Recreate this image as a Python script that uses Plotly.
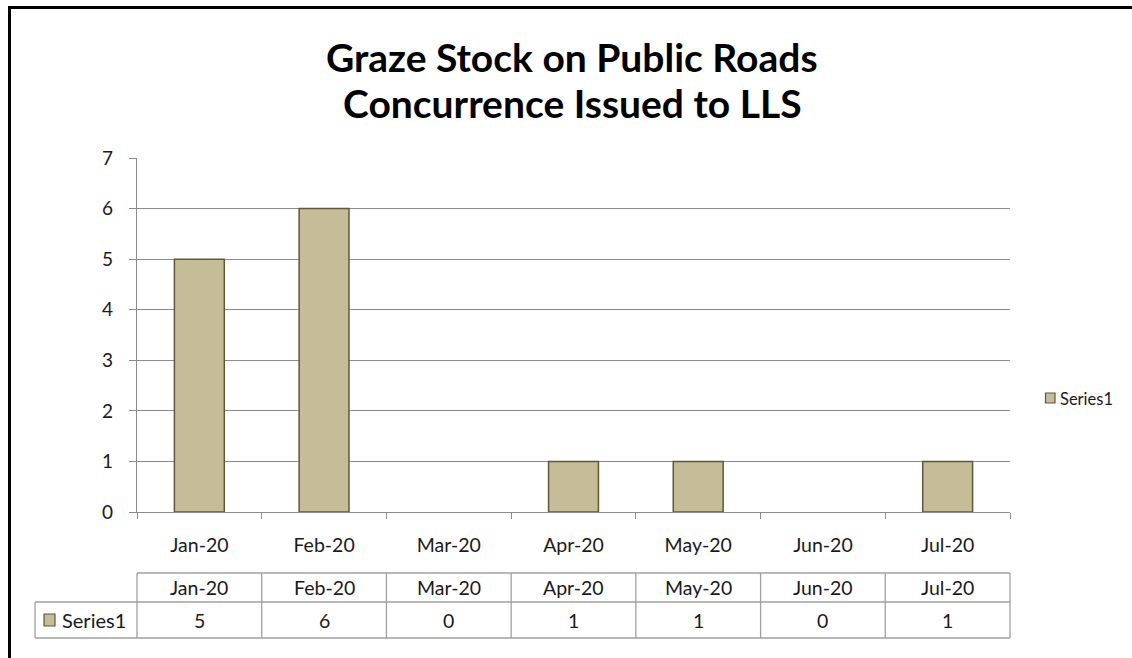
import plotly.graph_objects as go

categories = ["Jan-20", "Feb-20", "Mar-20", "Apr-20", "May-20", "Jun-20", "Jul-20"]
values = [5, 6, 0, 1, 1, 0, 1]
series_name = "Series1"
title_lines = ["Graze Stock on Public Roads", "Concurrence Issued to LLS"]
y_ticks = [0, 1, 2, 3, 4, 5, 6, 7]

W, H = 1132, 658
L, R, T, B = 137, 1010, 158, 512
FONT = "Lato, 'Open Sans', sans-serif"
BAR_FILL = "#C4BD97"
BAR_LINE = "#5E583A"
GRID = "#8C8C8C"
TABLE = "#A0A0A0"
TXT = "#1a1a1a"


def px_x(p):
    return (p - L) / (R - L)


def px_y(p):
    return (B - p) / (B - T)


n = len(categories)
fig = go.Figure()
fig.add_trace(go.Bar(
    x=categories, y=values, name=series_name, width=0.4,
    marker=dict(color=BAR_FILL,
                line=dict(color=BAR_LINE, width=[1.5 if v else 0 for v in values])),
    showlegend=False, hoverinfo="skip",
))

shapes = []
annotations = []

# Outer chart border (left and top)
shapes.append(dict(type="line", xref="paper", yref="paper", x0=px_x(9.5), x1=px_x(9.5),
                   y0=px_y(7.5), y1=px_y(662), line=dict(color="black", width=3)))
shapes.append(dict(type="line", xref="paper", yref="paper", x0=px_x(8), x1=px_x(1136),
                   y0=px_y(7.5), y1=px_y(7.5), line=dict(color="black", width=3)))

# Title
for line, yc in zip(title_lines, [57, 103]):
    annotations.append(dict(x=px_x(572), xref="paper", y=px_y(yc), yref="paper",
                            text="<b>" + line + "</b>", showarrow=False,
                            xanchor="center", yanchor="middle",
                            font=dict(family=FONT, size=39, color="black")))

# Data table
ty_top, ty_mid, ty_bot = px_y(573), px_y(602), px_y(638)
tx_left = px_x(35)
tl = dict(color=TABLE, width=1.3)
shapes.append(dict(type="line", xref="paper", yref="paper", x0=0, x1=1, y0=ty_top, y1=ty_top, line=tl))
shapes.append(dict(type="line", xref="paper", yref="paper", x0=tx_left, x1=1, y0=ty_mid, y1=ty_mid, line=tl))
shapes.append(dict(type="line", xref="paper", yref="paper", x0=tx_left, x1=1, y0=ty_bot, y1=ty_bot, line=tl))
shapes.append(dict(type="line", xref="paper", yref="paper", x0=tx_left, x1=tx_left, y0=ty_mid, y1=ty_bot, line=tl))
for i in range(n + 1):
    xp = i / n
    shapes.append(dict(type="line", xref="paper", yref="paper", x0=xp, x1=xp, y0=ty_top, y1=ty_bot, line=tl))

for c, v in zip(categories, values):
    annotations.append(dict(x=c, xref="x", y=(ty_top + ty_mid) / 2, yref="paper", text=c,
                            showarrow=False, xanchor="center", yanchor="middle",
                            font=dict(family=FONT, size=19.5, color=TXT)))
    annotations.append(dict(x=c, xref="x", y=(ty_mid + ty_bot) / 2, yref="paper", text=str(v),
                            showarrow=False, xanchor="center", yanchor="middle",
                            font=dict(family=FONT, size=19.5, color=TXT)))

# Series cell: legend key + name
shapes.append(dict(type="rect", xref="paper", yref="paper", x0=px_x(44), x1=px_x(55),
                   y0=px_y(626), y1=px_y(614), fillcolor=BAR_FILL, line=dict(color=BAR_LINE, width=1.2)))
annotations.append(dict(x=px_x(60), xref="paper", y=(ty_mid + ty_bot) / 2, yref="paper",
                        text=series_name, xanchor="left", yanchor="middle", showarrow=False,
                        font=dict(family=FONT, size=20, color=TXT)))

# Legend (right side)
shapes.append(dict(type="rect", xref="paper", yref="paper", x0=px_x(1045.5), x1=px_x(1055),
                   y0=px_y(403), y1=px_y(393), fillcolor=BAR_FILL, line=dict(color=BAR_LINE, width=1.2)))
annotations.append(dict(x=px_x(1058), xref="paper", y=px_y(398.5), yref="paper",
                        text=series_name, xanchor="left", yanchor="middle", showarrow=False,
                        font=dict(family=FONT, size=16.5, color=TXT)))

fig.update_layout(
    width=W, height=H,
    margin=dict(l=L, r=W - R, t=T, b=H - B),
    paper_bgcolor="white", plot_bgcolor="white",
    bargap=0.6, showlegend=False,
    shapes=shapes, annotations=annotations,
    xaxis=dict(type="category", tickson="boundaries", ticks="outside", ticklen=6,
               tickcolor=GRID, showline=True, linecolor=GRID, linewidth=1.3,
               showgrid=False, tickfont=dict(family=FONT, size=19.5, color=TXT),
               range=[-0.5, n - 0.5], ticklabelstandoff=15, fixedrange=True),
    yaxis=dict(range=[0, 7], tickvals=y_ticks, ticks="outside", ticklen=7, tickcolor=GRID,
               showline=True, linecolor=GRID, linewidth=1.3,
               showgrid=True, gridcolor=GRID, gridwidth=1.3, zeroline=False,
               tickfont=dict(family=FONT, size=19, color=TXT), ticklabelstandoff=12,
               fixedrange=True),
)

fig.write_html("out.html", config={"displayModeBar": False},
               post_script="document.body.style.margin='0';")
